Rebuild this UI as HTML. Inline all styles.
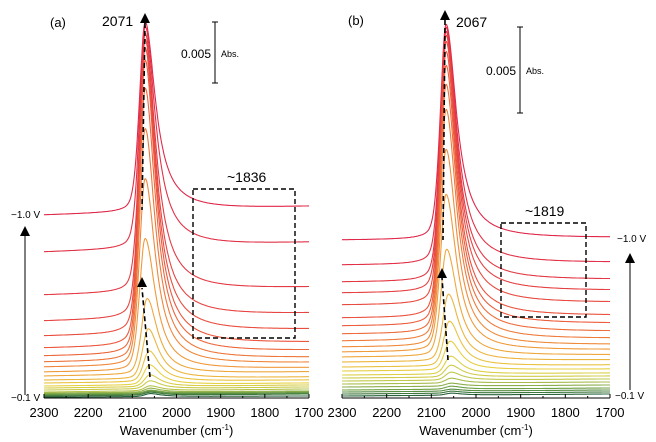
<!DOCTYPE html>
<html><head><meta charset="utf-8">
<style>
html,body{margin:0;padding:0;background:#fff;}
svg{display:block;font-family:"Liberation Sans",sans-serif;}
</style></head>
<body>
<svg id="s" width="656" height="442" viewBox="0 0 656 442" xmlns="http://www.w3.org/2000/svg">
<g id="curves"></g>
<text x="50" y="27" font-size="13">(a)</text>
<text x="102" y="26" font-size="14">2071</text>
<polygon points="140,23 150,23 145,13" fill="#000"/>
<line x1="145" y1="23" x2="142" y2="210" stroke="#000" stroke-width="1.6" stroke-dasharray="5,3"/>
<line x1="215" y1="22" x2="215" y2="83" stroke="#000" stroke-width="1"/>
<line x1="212" y1="22" x2="218" y2="22" stroke="#000"/><line x1="212" y1="83" x2="218" y2="83" stroke="#000"/>
<text x="211" y="58" font-size="12" text-anchor="end">0.005</text>
<text x="221" y="57" font-size="9">Abs.</text>
<text x="227" y="182" font-size="14">~1836</text>
<rect x="193" y="189" width="102" height="149" fill="none" stroke="#000" stroke-width="1.4" stroke-dasharray="5,3"/>
<text x="11" y="218" font-size="10">−1.0 V</text>
<line x1="25" y1="395" x2="25" y2="235" stroke="#000" stroke-width="1"/>
<polygon points="20,236 30,236 25,226" fill="#000"/>
<text x="11" y="401" font-size="10">−0.1 V</text>
<line x1="150" y1="377" x2="142" y2="288" stroke="#000" stroke-width="1.6" stroke-dasharray="5,3"/>
<polygon points="137,287 147,287 142,277" fill="#000"/>
<text x="348" y="25" font-size="13">(b)</text>
<text x="456" y="27" font-size="14">2067</text>
<polygon points="440,20 450,20 445,10" fill="#000"/>
<line x1="445" y1="20" x2="443" y2="240" stroke="#000" stroke-width="1.6" stroke-dasharray="5,3"/>
<line x1="520" y1="27" x2="520" y2="113" stroke="#000" stroke-width="1"/>
<line x1="517" y1="27" x2="523" y2="27" stroke="#000"/><line x1="517" y1="113" x2="523" y2="113" stroke="#000"/>
<text x="516" y="75" font-size="12" text-anchor="end">0.005</text>
<text x="526" y="74" font-size="9">Abs.</text>
<text x="525" y="216" font-size="14">~1819</text>
<rect x="501" y="223" width="85" height="94" fill="none" stroke="#000" stroke-width="1.4" stroke-dasharray="5,3"/>
<text x="617" y="242" font-size="10">−1.0 V</text>
<line x1="630" y1="390" x2="630" y2="262" stroke="#000" stroke-width="1"/>
<polygon points="625,263 635,263 630,253" fill="#000"/>
<text x="615" y="399" font-size="10">−0.1 V</text>
<line x1="448" y1="360" x2="442" y2="278" stroke="#000" stroke-width="1.6" stroke-dasharray="5,3"/>
<polygon points="437,278 447,278 442,268" fill="#000"/>
<g id="axes"></g>
</svg>
<script>
const NS="http://www.w3.org/2000/svg";
const cg=document.getElementById('curves'), ag=document.getElementById('axes');
function col(t){
  const stops=[[0,[224,40,74]],[0.25,[236,90,60]],[0.45,[240,160,60]],[0.62,[230,210,70]],[0.75,[190,200,80]],[0.87,[110,160,70]],[1,[40,100,60]]];
  for(let i=1;i<stops.length;i++){if(t<=stops[i][0]){const a=stops[i-1],b=stops[i];const f=(t-a[0])/(b[0]-a[0]);
    return 'rgb('+a[1].map((v,k)=>Math.round(v+(b[1][k]-v)*f)).join(',')+')';}}
  return 'rgb(40,100,60)';
}
function panel(x0,x1,axY,pk,bl,tops,rise){
  const n=bl.length;
  for(let i=0;i<n;i++){
    const h=Math.max(0,bl[i]-tops[i]);
    const c=pk-(h<120?(120-h)/120*12:0);
    let d='';
    for(let w=2300;w>=1700;w-=2){
      const dw=w-c; let L;
      if(dw>0){const s=dw/15; L=0.7*Math.exp(-s*s*0.693)+0.3/(1+s*s);}
      else {const s=dw/28; L=1/(1+s*s);}
      const r=rise[i]*(2300-w)/600;
      const y=bl[i]-h*L-r;
      const x=x0+(2300-w)/600*(x1-x0);
      d+=(d?'L':'M')+x.toFixed(1)+','+y.toFixed(1);
    }
    const p=document.createElementNS(NS,'path');
    p.setAttribute('d',d);p.setAttribute('fill','none');p.setAttribute('stroke',col(i/(n-1)));p.setAttribute('stroke-width','1.1');
    cg.appendChild(p);
  }
  const l=document.createElementNS(NS,'line');
  l.setAttribute('x1',x0);l.setAttribute('x2',x1);l.setAttribute('y1',axY);l.setAttribute('y2',axY);l.setAttribute('stroke','#000');
  ag.appendChild(l);
  for(let w=2300;w>=1700;w-=50){
    const x=x0+(2300-w)/600*(x1-x0);
    const t=document.createElementNS(NS,'line');
    t.setAttribute('x1',x);t.setAttribute('x2',x);t.setAttribute('y1',axY);t.setAttribute('y2',axY-(w%100?2:4));t.setAttribute('stroke','#000');
    ag.appendChild(t);
    if(w%100==0){const tx=document.createElementNS(NS,'text');
      tx.setAttribute('x',x);tx.setAttribute('y',axY+19);tx.setAttribute('font-size','13');tx.setAttribute('text-anchor','middle');
      tx.textContent=w;ag.appendChild(tx);}
  }
  const tt=document.createElementNS(NS,'text');
  tt.setAttribute('x',(x0+x1)/2);tt.setAttribute('y',axY+37);tt.setAttribute('font-size','13');tt.setAttribute('text-anchor','middle');
  tt.innerHTML='Wavenumber (cm<tspan dy="-5" font-size="8">-1</tspan><tspan dy="5">)</tspan>';
  ag.appendChild(tt);
}
panel(44,309,398,2071,
 [215,252,295,321,336,348,356,362,367,372,376,380,383,386,388,390,392,393,394,395,396,397],
 [25,30,36,42,50,62,90,130,180,240,300,330,352,366,376,382,387,389,391,392,393,394],
 [8,9,7,7,6,5,5,4,4,4,4,3,3,3,3,3,3,2,2,2,2,1]);
panel(342,610,398,2067,
 [240,265,282,293,305,318,326,334,341,347,352,357,362,367,371,375,378,381,384,387,390,392,394,396],
 [25,28,32,36,42,52,66,85,110,150,195,250,295,322,342,357,366,373,379,384,387,390,392,394],
 [2,2,2,2,2,2,2,2,2,2,2,2,2,2,2,2,2,2,2,2,2,2,2,2]);
</script>
</body></html>
